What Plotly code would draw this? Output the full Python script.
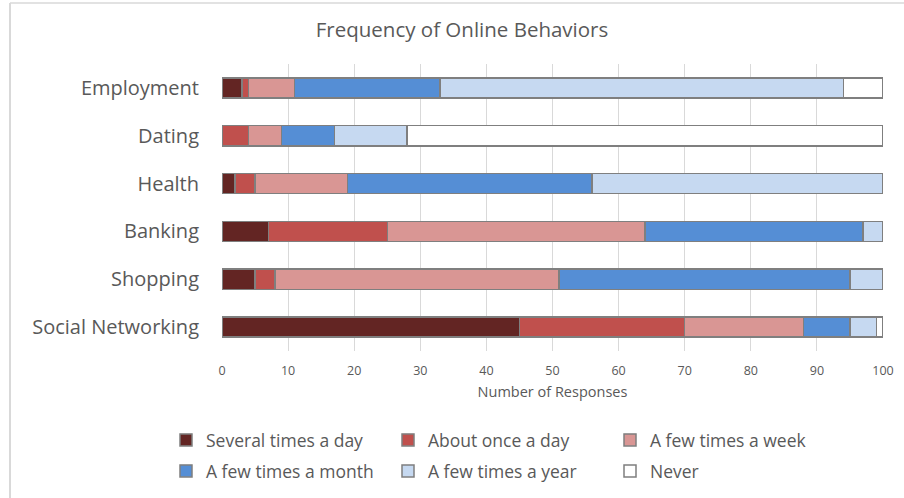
import plotly.graph_objects as go

categories = ["Social Networking", "Shopping", "Banking", "Health", "Dating", "Employment"]
series_names = ["Several times a day", "About once a day", "A few times a week",
                "A few times a month", "A few times a year", "Never"]
several_day = [45, 5, 7, 2, 0, 3]
once_day = [25, 3, 18, 3, 4, 1]
few_week = [18, 43, 39, 14, 5, 7]
few_month = [7, 44, 33, 37, 8, 22]
few_year = [4, 5, 3, 44, 11, 61]
never = [1, 0, 0, 0, 72, 6]
x_ticks = [0, 10, 20, 30, 40, 50, 60, 70, 80, 90, 100]

values = [several_day, once_day, few_week, few_month, few_year, never]
colors = ["#632523", "#C0504D", "#D99694", "#558ED5", "#C6D9F1", "#FFFFFF"]

FONT = "Open Sans"
TXT = "#595959"

fig = go.Figure()
for i, (name, vals, col) in enumerate(zip(series_names, values, colors)):
    fig.add_trace(go.Bar(
        y=categories, x=vals, name=name, orientation="h",
        marker=dict(color=col, line=dict(color="#7F7F7F", width=1.5)),
        width=0.42,
        legend="legend" if i < 3 else "legend2",
    ))

L, R, T, B = 222, 21, 64, 147
W, H = 904, 498
pw, ph = W - L - R, H - T - B

def px(xp):
    return (xp - L) / pw

def py(yp):
    return 1 - (yp - T) / ph

leg_common = dict(orientation="h", x=px(166), xanchor="left", yanchor="middle",
                  font=dict(size=17.5, color=TXT), entrywidth=177, entrywidthmode="pixels",
                  traceorder="normal", itemclick=False, bgcolor="rgba(0,0,0,0)")

fig.update_layout(
    barmode="stack",
    width=W, height=H,
    margin=dict(l=L, r=R, t=T, b=B, autoexpand=False),
    paper_bgcolor="white", plot_bgcolor="white",
    font=dict(family=FONT, color=TXT),
    title=dict(text="Frequency of Online Behaviors", xref="container", x=462 / W, xanchor="center",
               yref="container", y=1 - 30 / H, yanchor="middle",
               font=dict(size=20.5, color=TXT, family=FONT)),
    xaxis=dict(range=[0, 100], tickvals=x_ticks, showgrid=True, gridcolor="#D9D9D9",
               gridwidth=1, zeroline=False, showline=False,
               tickfont=dict(size=12.5, color=TXT), ticks="", ticklabelstandoff=10,
               title=dict(text="Number of Responses", font=dict(size=14.5, color=TXT), standoff=9)),
    yaxis=dict(showgrid=False, zeroline=False, showline=False,
               tickfont=dict(size=20, color=TXT), ticks="", ticklabelstandoff=22,
               range=[-0.5, 5.5]),
    legend=dict(y=py(440), **leg_common),
    legend2=dict(y=py(471), **leg_common),
    showlegend=True,
    shapes=[
        dict(type="line", xref="paper", yref="paper", x0=px(10), x1=px(10),
             y0=py(3), y1=py(500), line=dict(color="#D9D9D9", width=2)),
        dict(type="line", xref="paper", yref="paper", x0=px(10), x1=px(906),
             y0=py(3), y1=py(3), line=dict(color="#D9D9D9", width=1.5)),
    ],
)

fig.write_html("out.html", config={"displayModeBar": False},
               post_script="document.body.style.margin='0';")
